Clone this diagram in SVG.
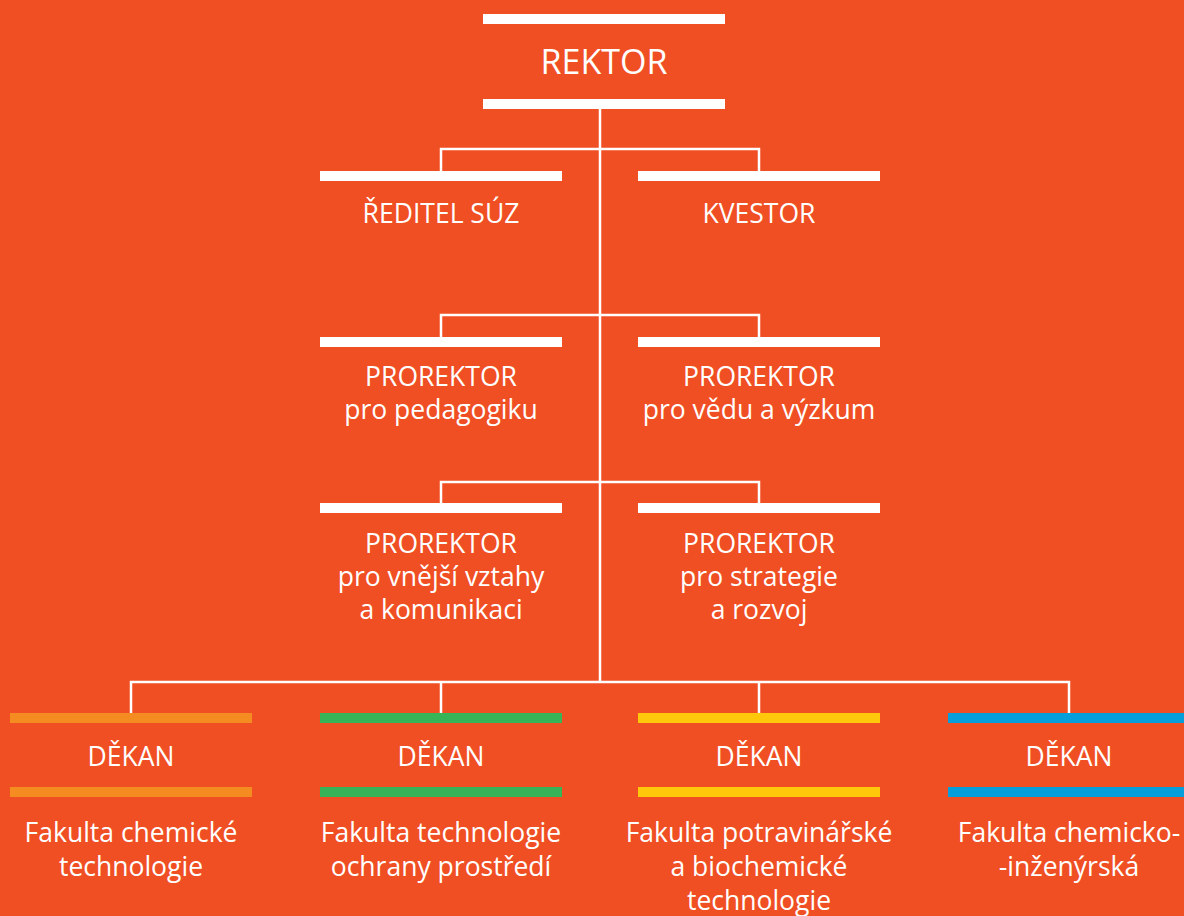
<svg xmlns="http://www.w3.org/2000/svg" width="1184" height="916" viewBox="0 0 1184 916">
<style>
text{font-family:"Open Sans","Noto Sans","Liberation Sans",sans-serif;fill:#fff;text-anchor:middle;font-size:26.5px}
.big{font-size:34px}
.w{fill:#fff}
.c{stroke:#fff;stroke-width:2.5;fill:none}
</style>
<rect width="1184" height="916" fill="#F04E23"/>
<g id="connectors">
<path class="c" d="M600 109V682"/>
<path class="c" d="M441 171V149H759V171"/>
<path class="c" d="M441 337V315H759V337"/>
<path class="c" d="M441 503V482H759V503"/>
<path class="c" d="M131 713V682H1069V713M441 682V713M759 682V713"/>
</g>
<g id="rektor">
<rect class="w" x="483" y="14" width="242" height="10"/>
<text class="big" x="604" y="74">REKTOR</text>
<rect class="w" x="483" y="99" width="242" height="10"/>
</g>
<g id="reditel">
<rect class="w" x="320" y="171" width="242" height="10"/>
<text x="441" y="223">ŘEDITEL SÚZ</text>
</g>
<g id="kvestor">
<rect class="w" x="638" y="171" width="242" height="10"/>
<text x="759" y="223">KVESTOR</text>
</g>
<g id="prorektor-pedagogika">
<rect class="w" x="320" y="337" width="242" height="10"/>
<text x="441" y="386">PROREKTOR</text>
<text x="441" y="419">pro pedagogiku</text>
</g>
<g id="prorektor-veda">
<rect class="w" x="638" y="337" width="242" height="10"/>
<text x="759" y="386">PROREKTOR</text>
<text x="759" y="419">pro vědu a výzkum</text>
</g>
<g id="prorektor-vztahy">
<rect class="w" x="320" y="503" width="242" height="10"/>
<text x="441" y="553">PROREKTOR</text>
<text x="441" y="586">pro vnější vztahy</text>
<text x="441" y="619">a komunikaci</text>
</g>
<g id="prorektor-strategie">
<rect class="w" x="638" y="503" width="242" height="10"/>
<text x="759" y="553">PROREKTOR</text>
<text x="759" y="586">pro strategie</text>
<text x="759" y="619">a rozvoj</text>
</g>
<g id="dekan-fcht">
<rect x="10" y="713" width="242" height="10" fill="#F58C22"/>
<text x="131" y="766">DĚKAN</text>
<rect x="10" y="787" width="242" height="10" fill="#F58C22"/>
<text x="131" y="842">Fakulta chemické</text>
<text x="131" y="876">technologie</text>
</g>
<g id="dekan-ftop">
<rect x="320" y="713" width="242" height="10" fill="#37B457"/>
<text x="441" y="766">DĚKAN</text>
<rect x="320" y="787" width="242" height="10" fill="#37B457"/>
<text x="441" y="842">Fakulta technologie</text>
<text x="441" y="876">ochrany prostředí</text>
</g>
<g id="dekan-fpbt">
<rect x="638" y="713" width="242" height="10" fill="#FFC80A"/>
<text x="759" y="766">DĚKAN</text>
<rect x="638" y="787" width="242" height="10" fill="#FFC80A"/>
<text x="759" y="842">Fakulta potravinářské</text>
<text x="759" y="876">a biochemické</text>
<text x="759" y="910">technologie</text>
</g>
<g id="dekan-fchi">
<rect x="948" y="713" width="242" height="10" fill="#069FDB"/>
<text x="1069" y="766">DĚKAN</text>
<rect x="948" y="787" width="242" height="10" fill="#069FDB"/>
<text x="1069" y="842">Fakulta chemicko-</text>
<text x="1069" y="876">-inženýrská</text>
</g>
</svg>
